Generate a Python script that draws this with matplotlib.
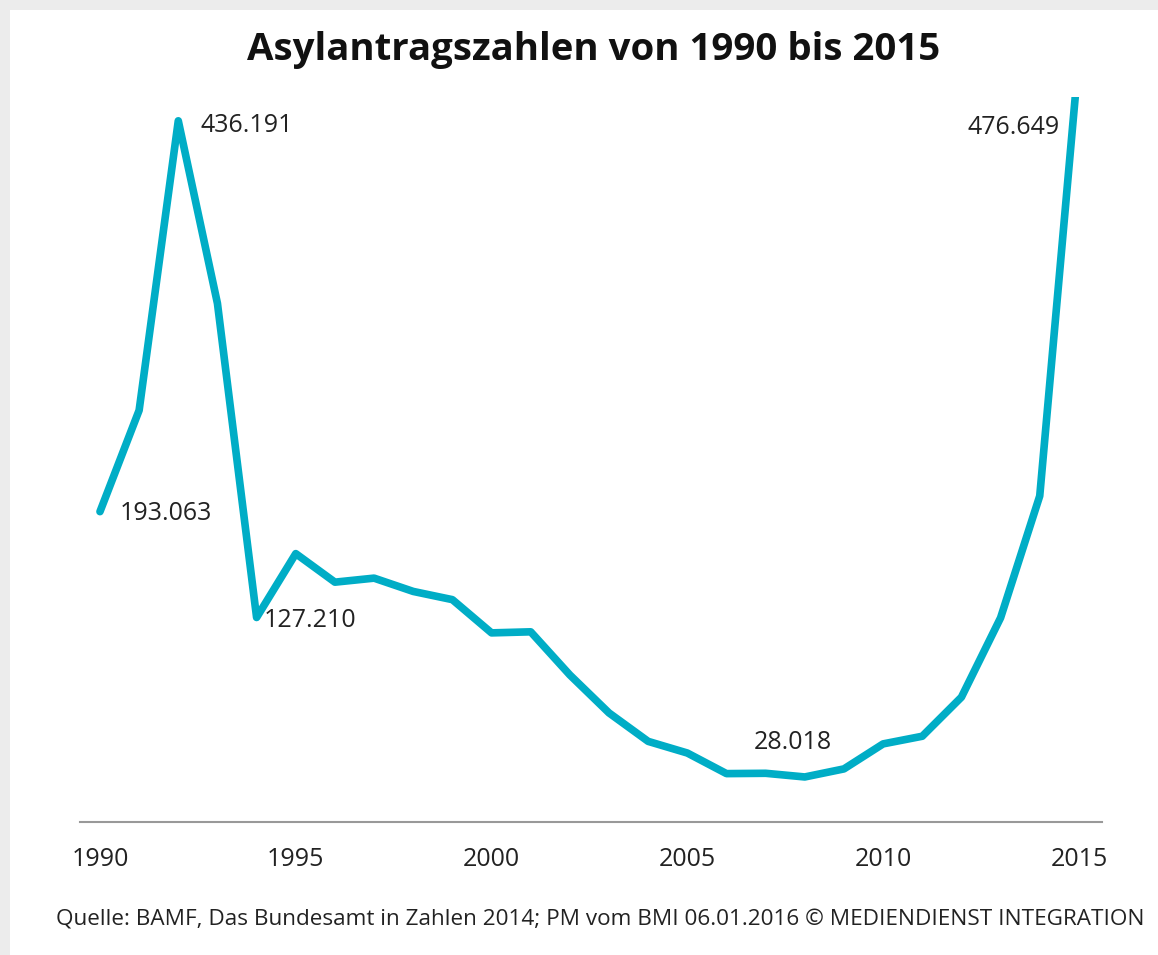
import matplotlib.pyplot as plt
from matplotlib.patches import Rectangle

years = list(range(1990, 2016))
antraege = [193063, 256112, 436191, 322599, 127210, 166951, 149193, 151700,
            143429, 138319, 117648, 118306, 91471, 67848, 50152, 42908,
            30100, 30303, 28018, 33033, 48589, 53347, 77651, 127023,
            202834, 476649]
tick_years = [1990, 1995, 2000, 2005, 2010, 2015]

# labelled points: (year, text, offset in pixels, ha)
labels = [
    (1992, '436.191', (22, -5), 'left'),
    (1990, '193.063', (20, -2), 'left'),
    (1994, '127.210', (7, -3), 'left'),
    (2008, '28.018', (-12, 34), 'center'),
    (2015, '476.649', (-19, -72), 'right'),
]

plt.rcParams['font.family'] = ['Open Sans', 'DejaVu Sans']

fig = plt.figure(figsize=(11.58, 9.55), dpi=100, facecolor='#ececec')
fig.patches.append(Rectangle((10 / 1158, 0), 1, 945 / 955,
                             transform=fig.transFigure, facecolor='white',
                             edgecolor='none', zorder=-10))

ax = fig.add_axes([80 / 1158, 133 / 955, 1022 / 1158, 725 / 955])
ax.set_facecolor('none')
ax.plot(years, antraege, color='#00adc6', lw=5.5, solid_capstyle='round',
        solid_joinstyle='round')
ax.set_xlim(1989.49, 2015.59)
ax.set_ylim(0, 451000)

for s in ['top', 'right', 'left']:
    ax.spines[s].set_visible(False)
ax.spines['bottom'].set_color('#999999')
ax.spines['bottom'].set_linewidth(1.5)
ax.set_yticks([])
ax.set_xticks(tick_years)
ax.set_xticklabels([str(y) for y in tick_years], fontsize=18, color='#222222')
ax.tick_params(axis='x', length=0, pad=18)

for yr, txt, off, ha in labels:
    val = antraege[years.index(yr)]
    ax.annotate(txt, (yr, val), xytext=off, textcoords='offset pixels',
                ha=ha, va='center', fontsize=18, color='#222222',
                annotation_clip=False)

fig.text(594 / 1158, 1 - 50 / 955, 'Asylantragszahlen von 1990 bis 2015',
         ha='center', va='center', fontsize=27.6, fontweight='bold',
         color='#111111')
fig.text(600 / 1158, 1 - 920 / 955,
         'Quelle: BAMF, Das Bundesamt in Zahlen 2014; PM vom BMI 06.01.2016 '
         '\u00a9 MEDIENDIENST INTEGRATION',
         ha='center', va='center', fontsize=16.2, color='#222222')

fig.savefig('out.png', dpi=100, facecolor=fig.get_facecolor())
